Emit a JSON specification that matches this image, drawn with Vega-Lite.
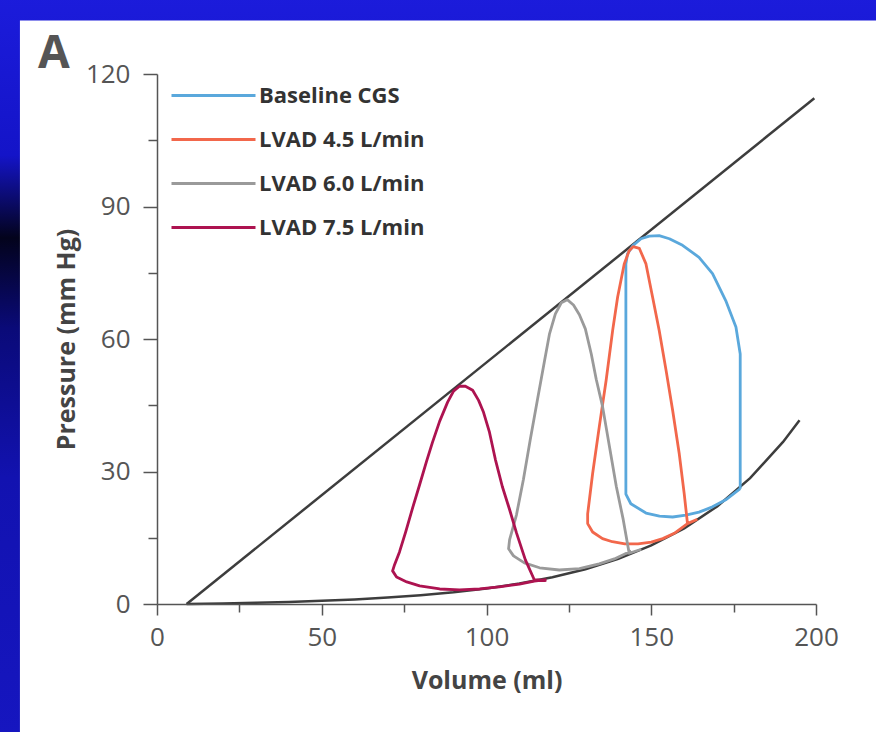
{
  "$schema": "https://vega.github.io/schema/vega-lite/v6.json",
  "width": 659,
  "height": 530,
  "autosize": {"type": "none"},
  "padding": {"left": 157, "top": 74, "right": 60, "bottom": 128},
  "background": "#1616c4",
  "title": {
    "text": "A",
    "anchor": "start",
    "frame": "group",
    "fontSize": 46,
    "fontWeight": "bold",
    "font": "Open Sans",
    "color": "#555555",
    "baseline": "alphabetic",
    "offset": 0,
    "dx": -119,
    "dy": 124,
    "zindex": 2
  },
  "datasets": {
    "espvr": [
      {"v": 9, "p": 0},
      {"v": 199.5, "p": 114.5}
    ],
    "edpvr": [
      {"v": 9, "p": 0},
      {"v": 20, "p": 0.13},
      {"v": 30, "p": 0.28},
      {"v": 40, "p": 0.47},
      {"v": 50, "p": 0.72},
      {"v": 60, "p": 1.04},
      {"v": 70, "p": 1.45},
      {"v": 80, "p": 1.97},
      {"v": 90, "p": 2.64},
      {"v": 100, "p": 3.51},
      {"v": 110, "p": 4.62},
      {"v": 120, "p": 6.05},
      {"v": 130, "p": 7.87},
      {"v": 140, "p": 10.23},
      {"v": 150, "p": 13.25},
      {"v": 160, "p": 17.12},
      {"v": 170, "p": 22.1},
      {"v": 180, "p": 28.49},
      {"v": 190, "p": 36.7},
      {"v": 195, "p": 41.6}
    ],
    "loops": [
      {"s": "Baseline CGS", "i": 0, "v": 177.0, "p": 26.1},
      {"s": "Baseline CGS", "i": 1, "v": 177.0, "p": 40.0},
      {"s": "Baseline CGS", "i": 2, "v": 177.0, "p": 56.6},
      {"s": "Baseline CGS", "i": 3, "v": 175.7, "p": 62.7},
      {"s": "Baseline CGS", "i": 4, "v": 172.6, "p": 68.7},
      {"s": "Baseline CGS", "i": 5, "v": 168.6, "p": 74.8},
      {"s": "Baseline CGS", "i": 6, "v": 164.5, "p": 78.5},
      {"s": "Baseline CGS", "i": 7, "v": 159.5, "p": 81.2},
      {"s": "Baseline CGS", "i": 8, "v": 155.5, "p": 82.7},
      {"s": "Baseline CGS", "i": 9, "v": 152.4, "p": 83.4},
      {"s": "Baseline CGS", "i": 10, "v": 149.4, "p": 83.3},
      {"s": "Baseline CGS", "i": 11, "v": 146.9, "p": 82.7},
      {"s": "Baseline CGS", "i": 12, "v": 144.5, "p": 81.2},
      {"s": "Baseline CGS", "i": 13, "v": 142.8, "p": 79.3},
      {"s": "Baseline CGS", "i": 14, "v": 142.3, "p": 77.0},
      {"s": "Baseline CGS", "i": 15, "v": 142.3, "p": 50.0},
      {"s": "Baseline CGS", "i": 16, "v": 142.3, "p": 24.9},
      {"s": "Baseline CGS", "i": 17, "v": 143.8, "p": 22.7},
      {"s": "Baseline CGS", "i": 18, "v": 148.4, "p": 20.6},
      {"s": "Baseline CGS", "i": 19, "v": 152.5, "p": 19.9},
      {"s": "Baseline CGS", "i": 20, "v": 156.5, "p": 19.7},
      {"s": "Baseline CGS", "i": 21, "v": 160.5, "p": 20.1},
      {"s": "Baseline CGS", "i": 22, "v": 164.5, "p": 20.8},
      {"s": "Baseline CGS", "i": 23, "v": 168.6, "p": 22.0},
      {"s": "Baseline CGS", "i": 24, "v": 172.6, "p": 23.6},
      {"s": "Baseline CGS", "i": 25, "v": 177.0, "p": 26.1},
      {"s": "LVAD 4.5 L/min", "i": 0, "v": 161.0, "p": 18.2},
      {"s": "LVAD 4.5 L/min", "i": 1, "v": 160.0, "p": 25.0},
      {"s": "LVAD 4.5 L/min", "i": 2, "v": 158.5, "p": 34.0},
      {"s": "LVAD 4.5 L/min", "i": 3, "v": 156.5, "p": 43.8},
      {"s": "LVAD 4.5 L/min", "i": 4, "v": 154.5, "p": 52.9},
      {"s": "LVAD 4.5 L/min", "i": 5, "v": 152.4, "p": 62.0},
      {"s": "LVAD 4.5 L/min", "i": 6, "v": 150.4, "p": 69.5},
      {"s": "LVAD 4.5 L/min", "i": 7, "v": 148.4, "p": 77.0},
      {"s": "LVAD 4.5 L/min", "i": 8, "v": 146.4, "p": 80.5},
      {"s": "LVAD 4.5 L/min", "i": 9, "v": 144.5, "p": 80.9},
      {"s": "LVAD 4.5 L/min", "i": 10, "v": 143.3, "p": 80.0},
      {"s": "LVAD 4.5 L/min", "i": 11, "v": 141.8, "p": 77.0},
      {"s": "LVAD 4.5 L/min", "i": 12, "v": 139.8, "p": 69.5},
      {"s": "LVAD 4.5 L/min", "i": 13, "v": 138.3, "p": 62.0},
      {"s": "LVAD 4.5 L/min", "i": 14, "v": 136.3, "p": 50.6},
      {"s": "LVAD 4.5 L/min", "i": 15, "v": 134.2, "p": 40.0},
      {"s": "LVAD 4.5 L/min", "i": 16, "v": 132.2, "p": 29.5},
      {"s": "LVAD 4.5 L/min", "i": 17, "v": 130.7, "p": 20.4},
      {"s": "LVAD 4.5 L/min", "i": 18, "v": 130.7, "p": 18.2},
      {"s": "LVAD 4.5 L/min", "i": 19, "v": 132.2, "p": 16.3},
      {"s": "LVAD 4.5 L/min", "i": 20, "v": 135.2, "p": 14.8},
      {"s": "LVAD 4.5 L/min", "i": 21, "v": 138.2, "p": 14.1},
      {"s": "LVAD 4.5 L/min", "i": 22, "v": 142.0, "p": 13.6},
      {"s": "LVAD 4.5 L/min", "i": 23, "v": 146.0, "p": 13.6},
      {"s": "LVAD 4.5 L/min", "i": 24, "v": 150.0, "p": 14.0},
      {"s": "LVAD 4.5 L/min", "i": 25, "v": 153.5, "p": 14.8},
      {"s": "LVAD 4.5 L/min", "i": 26, "v": 157.0, "p": 16.0},
      {"s": "LVAD 4.5 L/min", "i": 27, "v": 161.0, "p": 18.2},
      {"s": "LVAD 4.5 L/min", "i": 28, "v": 164.0, "p": 19.2},
      {"s": "LVAD 6.0 L/min", "i": 0, "v": 147.0, "p": 12.4},
      {"s": "LVAD 6.0 L/min", "i": 1, "v": 143.3, "p": 11.5},
      {"s": "LVAD 6.0 L/min", "i": 2, "v": 141.5, "p": 19.1},
      {"s": "LVAD 6.0 L/min", "i": 3, "v": 139.4, "p": 26.6},
      {"s": "LVAD 6.0 L/min", "i": 4, "v": 137.3, "p": 35.7},
      {"s": "LVAD 6.0 L/min", "i": 5, "v": 135.2, "p": 44.8},
      {"s": "LVAD 6.0 L/min", "i": 6, "v": 133.3, "p": 50.9},
      {"s": "LVAD 6.0 L/min", "i": 7, "v": 131.8, "p": 56.6},
      {"s": "LVAD 6.0 L/min", "i": 8, "v": 130.0, "p": 62.3},
      {"s": "LVAD 6.0 L/min", "i": 9, "v": 128.2, "p": 65.5},
      {"s": "LVAD 6.0 L/min", "i": 10, "v": 126.4, "p": 67.7},
      {"s": "LVAD 6.0 L/min", "i": 11, "v": 124.5, "p": 68.9},
      {"s": "LVAD 6.0 L/min", "i": 12, "v": 122.7, "p": 68.2},
      {"s": "LVAD 6.0 L/min", "i": 13, "v": 120.9, "p": 65.7},
      {"s": "LVAD 6.0 L/min", "i": 14, "v": 119.1, "p": 61.1},
      {"s": "LVAD 6.0 L/min", "i": 15, "v": 117.6, "p": 55.0},
      {"s": "LVAD 6.0 L/min", "i": 16, "v": 115.5, "p": 46.4},
      {"s": "LVAD 6.0 L/min", "i": 17, "v": 113.3, "p": 37.3},
      {"s": "LVAD 6.0 L/min", "i": 18, "v": 111.2, "p": 28.2},
      {"s": "LVAD 6.0 L/min", "i": 19, "v": 109.1, "p": 20.2},
      {"s": "LVAD 6.0 L/min", "i": 20, "v": 107.0, "p": 14.5},
      {"s": "LVAD 6.0 L/min", "i": 21, "v": 106.7, "p": 12.5},
      {"s": "LVAD 6.0 L/min", "i": 22, "v": 108.2, "p": 10.9},
      {"s": "LVAD 6.0 L/min", "i": 23, "v": 111.5, "p": 9.3},
      {"s": "LVAD 6.0 L/min", "i": 24, "v": 116.1, "p": 8.2},
      {"s": "LVAD 6.0 L/min", "i": 25, "v": 122.1, "p": 7.7},
      {"s": "LVAD 6.0 L/min", "i": 26, "v": 128.2, "p": 8.0},
      {"s": "LVAD 6.0 L/min", "i": 27, "v": 134.2, "p": 9.1},
      {"s": "LVAD 6.0 L/min", "i": 28, "v": 138.8, "p": 10.2},
      {"s": "LVAD 6.0 L/min", "i": 29, "v": 143.9, "p": 12.0},
      {"s": "LVAD 7.5 L/min", "i": 0, "v": 118.2, "p": 5.3},
      {"s": "LVAD 7.5 L/min", "i": 1, "v": 114.5, "p": 5.5},
      {"s": "LVAD 7.5 L/min", "i": 2, "v": 111.8, "p": 10.0},
      {"s": "LVAD 7.5 L/min", "i": 3, "v": 109.1, "p": 16.1},
      {"s": "LVAD 7.5 L/min", "i": 4, "v": 107.0, "p": 21.4},
      {"s": "LVAD 7.5 L/min", "i": 5, "v": 104.8, "p": 26.6},
      {"s": "LVAD 7.5 L/min", "i": 6, "v": 102.7, "p": 32.7},
      {"s": "LVAD 7.5 L/min", "i": 7, "v": 100.9, "p": 38.9},
      {"s": "LVAD 7.5 L/min", "i": 8, "v": 99.1, "p": 43.4},
      {"s": "LVAD 7.5 L/min", "i": 9, "v": 97.6, "p": 46.1},
      {"s": "LVAD 7.5 L/min", "i": 10, "v": 95.8, "p": 48.4},
      {"s": "LVAD 7.5 L/min", "i": 11, "v": 93.6, "p": 49.3},
      {"s": "LVAD 7.5 L/min", "i": 12, "v": 91.8, "p": 49.3},
      {"s": "LVAD 7.5 L/min", "i": 13, "v": 90.0, "p": 48.2},
      {"s": "LVAD 7.5 L/min", "i": 14, "v": 88.2, "p": 45.7},
      {"s": "LVAD 7.5 L/min", "i": 15, "v": 85.8, "p": 41.4},
      {"s": "LVAD 7.5 L/min", "i": 16, "v": 83.6, "p": 36.6},
      {"s": "LVAD 7.5 L/min", "i": 17, "v": 81.8, "p": 32.3},
      {"s": "LVAD 7.5 L/min", "i": 18, "v": 79.7, "p": 27.0},
      {"s": "LVAD 7.5 L/min", "i": 19, "v": 77.6, "p": 21.8},
      {"s": "LVAD 7.5 L/min", "i": 20, "v": 75.5, "p": 16.4},
      {"s": "LVAD 7.5 L/min", "i": 21, "v": 73.6, "p": 11.8},
      {"s": "LVAD 7.5 L/min", "i": 22, "v": 72.1, "p": 8.9},
      {"s": "LVAD 7.5 L/min", "i": 23, "v": 71.5, "p": 7.5},
      {"s": "LVAD 7.5 L/min", "i": 24, "v": 72.7, "p": 6.1},
      {"s": "LVAD 7.5 L/min", "i": 25, "v": 75.8, "p": 5.0},
      {"s": "LVAD 7.5 L/min", "i": 26, "v": 79.7, "p": 4.1},
      {"s": "LVAD 7.5 L/min", "i": 27, "v": 85.8, "p": 3.4},
      {"s": "LVAD 7.5 L/min", "i": 28, "v": 91.8, "p": 3.2},
      {"s": "LVAD 7.5 L/min", "i": 29, "v": 97.9, "p": 3.4},
      {"s": "LVAD 7.5 L/min", "i": 30, "v": 103.9, "p": 3.9},
      {"s": "LVAD 7.5 L/min", "i": 31, "v": 110.0, "p": 4.5},
      {"s": "LVAD 7.5 L/min", "i": 32, "v": 114.5, "p": 5.2},
      {"s": "LVAD 7.5 L/min", "i": 33, "v": 118.2, "p": 5.5}
    ]
  },
  "layer": [
    {
      "data": {"values": [{}]},
      "mark": {
        "type": "rect",
        "clip": false,
        "fill": {
          "gradient": "linear",
          "x1": 0, "y1": 0, "x2": 0, "y2": 1,
          "stops": [
            {"offset": 0, "color": "#1c1cdc"},
            {"offset": 0.22, "color": "#1414c8"},
            {"offset": 0.33, "color": "#03031c"},
            {"offset": 0.45, "color": "#0a0a78"},
            {"offset": 0.65, "color": "#1212b0"},
            {"offset": 1, "color": "#1616c0"}
          ]
        }
      },
      "encoding": {
        "x": {"datum": -49, "type": "quantitative", "scale": {"domain": [0, 200], "nice": false},
          "axis": {
            "title": "Volume (ml)",
            "values": [0, 25, 50, 75, 100, 125, 150, 175, 200],
            "labelExpr": "datum.value % 50 === 0 ? datum.label : ''",
            "tickSize": {"condition": {"test": "datum.value % 50 === 0", "value": 11}, "value": 8},
            "labelPadding": 9,
            "titlePadding": 18,
            "zindex": 1
          }},
        "x2": {"datum": 222},
        "y": {"datum": -31, "type": "quantitative", "scale": {"domain": [0, 120], "nice": false},
          "axis": {
            "title": "Pressure (mm Hg)",
            "values": [0, 15, 30, 45, 60, 75, 90, 105, 120],
            "labelExpr": "datum.value % 30 === 0 ? datum.label : ''",
            "tickSize": {"condition": {"test": "datum.value % 30 === 0", "value": 14}, "value": 9},
            "labelPadding": 13,
            "titlePadding": 6,
            "zindex": 1
          }},
        "y2": {"datum": 139}
      }
    },
    {
      "data": {"values": [{}]},
      "mark": {"type": "rect", "clip": false, "fill": "#ffffff"},
      "encoding": {
        "x": {"datum": -41.6, "type": "quantitative", "scale": {"domain": [0, 200], "nice": false},
          "axis": {
            "title": "Volume (ml)",
            "values": [0, 25, 50, 75, 100, 125, 150, 175, 200],
            "labelExpr": "datum.value % 50 === 0 ? datum.label : ''",
            "tickSize": {"condition": {"test": "datum.value % 50 === 0", "value": 11}, "value": 8},
            "labelPadding": 9,
            "titlePadding": 18,
            "zindex": 1
          }},
        "x2": {"datum": 222},
        "y": {"datum": -31, "type": "quantitative", "scale": {"domain": [0, 120], "nice": false},
          "axis": {
            "title": "Pressure (mm Hg)",
            "values": [0, 15, 30, 45, 60, 75, 90, 105, 120],
            "labelExpr": "datum.value % 30 === 0 ? datum.label : ''",
            "tickSize": {"condition": {"test": "datum.value % 30 === 0", "value": 14}, "value": 9},
            "labelPadding": 13,
            "titlePadding": 6,
            "zindex": 1
          }},
        "y2": {"datum": 132.1}
      }
    },
    {
      "data": {"name": "espvr"},
      "mark": {"type": "line", "color": "#3d3d3d", "strokeWidth": 2.5},
      "encoding": {
        "x": {"field": "v", "type": "quantitative", "scale": {"domain": [0, 200], "nice": false},
          "axis": {
            "title": "Volume (ml)",
            "values": [0, 25, 50, 75, 100, 125, 150, 175, 200],
            "labelExpr": "datum.value % 50 === 0 ? datum.label : ''",
            "tickSize": {"condition": {"test": "datum.value % 50 === 0", "value": 11}, "value": 8},
            "labelPadding": 9,
            "titlePadding": 18,
            "zindex": 1
          }},
        "y": {"field": "p", "type": "quantitative", "scale": {"domain": [0, 120], "nice": false},
          "axis": {
            "title": "Pressure (mm Hg)",
            "values": [0, 15, 30, 45, 60, 75, 90, 105, 120],
            "labelExpr": "datum.value % 30 === 0 ? datum.label : ''",
            "tickSize": {"condition": {"test": "datum.value % 30 === 0", "value": 14}, "value": 9},
            "labelPadding": 13,
            "titlePadding": 6,
            "zindex": 1
          }}
      }
    },
    {
      "data": {"name": "edpvr"},
      "mark": {"type": "line", "color": "#3d3d3d", "strokeWidth": 2.5},
      "encoding": {
        "x": {"field": "v", "type": "quantitative", "scale": {"domain": [0, 200], "nice": false},
          "axis": {
            "title": "Volume (ml)",
            "values": [0, 25, 50, 75, 100, 125, 150, 175, 200],
            "labelExpr": "datum.value % 50 === 0 ? datum.label : ''",
            "tickSize": {"condition": {"test": "datum.value % 50 === 0", "value": 11}, "value": 8},
            "labelPadding": 9,
            "titlePadding": 18,
            "zindex": 1
          }},
        "y": {"field": "p", "type": "quantitative", "scale": {"domain": [0, 120], "nice": false},
          "axis": {
            "title": "Pressure (mm Hg)",
            "values": [0, 15, 30, 45, 60, 75, 90, 105, 120],
            "labelExpr": "datum.value % 30 === 0 ? datum.label : ''",
            "tickSize": {"condition": {"test": "datum.value % 30 === 0", "value": 14}, "value": 9},
            "labelPadding": 13,
            "titlePadding": 6,
            "zindex": 1
          }}
      }
    },
    {
      "data": {"name": "loops"},
      "mark": {"type": "line", "strokeWidth": 2.8, "strokeJoin": "round"},
      "encoding": {
        "x": {
          "field": "v",
          "type": "quantitative",
          "scale": {"domain": [0, 200], "nice": false},
          "axis": {
            "title": "Volume (ml)",
            "values": [0, 25, 50, 75, 100, 125, 150, 175, 200],
            "labelExpr": "datum.value % 50 === 0 ? datum.label : ''",
            "tickSize": {"condition": {"test": "datum.value % 50 === 0", "value": 11}, "value": 8},
            "labelPadding": 9,
            "titlePadding": 18,
            "zindex": 1
          }
        },
        "y": {
          "field": "p",
          "type": "quantitative",
          "scale": {"domain": [0, 120], "nice": false},
          "axis": {
            "title": "Pressure (mm Hg)",
            "values": [0, 15, 30, 45, 60, 75, 90, 105, 120],
            "labelExpr": "datum.value % 30 === 0 ? datum.label : ''",
            "tickSize": {"condition": {"test": "datum.value % 30 === 0", "value": 14}, "value": 9},
            "labelPadding": 13,
            "titlePadding": 6,
            "zindex": 1
          }
        },
        "color": {
          "field": "s",
          "type": "nominal",
          "scale": {
            "domain": ["Baseline CGS", "LVAD 4.5 L/min", "LVAD 6.0 L/min", "LVAD 7.5 L/min"],
            "range": ["#5aa8dc", "#f2674b", "#9a9a9a", "#ad1350"]
          },
          "legend": {"title": null}
        },
        "order": {"field": "i", "type": "quantitative"}
      }
    }
  ],
  "config": {
    "view": {"stroke": null},
    "axis": {
      "grid": false,
      "domainColor": "#555555",
      "domainWidth": 1.5,
      "tickColor": "#555555",
      "tickWidth": 1.5,
      "labelFont": "Open Sans",
      "labelFontSize": 26,
      "labelColor": "#555555",
      "labelFlush": false,
      "labelOverlap": false,
      "titleFont": "Open Sans",
      "titleFontSize": 25,
      "titleFontWeight": "bold",
      "titleColor": "#444444"
    },
    "legend": {
      "orient": "none",
      "legendX": 41,
      "legendY": 6,
      "symbolType": "M-3,0H3",
      "symbolSize": 784,
      "symbolStrokeWidth": 3,
      "labelFont": "Open Sans",
      "labelFontSize": 22,
      "labelFontWeight": "bold",
      "labelColor": "#333333",
      "labelOffset": 30,
      "labelLimit": 400,
      "rowPadding": 17,
      "zindex": 2
    }
  }
}
